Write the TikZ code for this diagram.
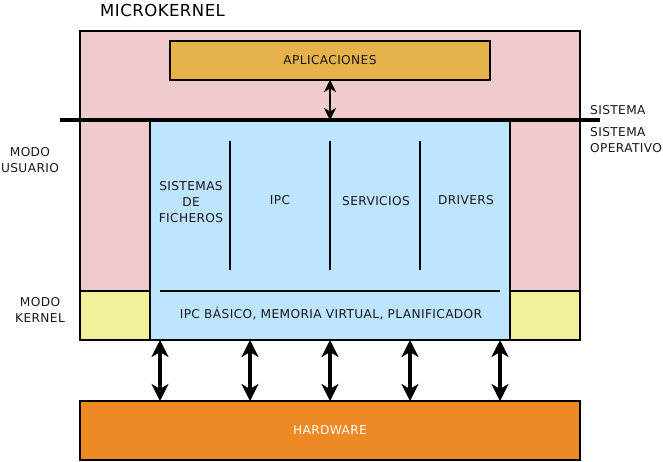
\documentclass[tikz,border=0pt]{standalone}
\usepackage{fontspec}
\setmainfont{DejaVu Sans}
\usetikzlibrary{arrows.meta}
\definecolor{oscol}{HTML}{EECACA}
\definecolor{appcol}{HTML}{E8B24A}
\definecolor{kercol}{HTML}{BEE5FF}
\definecolor{modcol}{HTML}{F0F09A}
\definecolor{hwcol}{HTML}{EE8A24}
\newfontfamily\lblfont[LetterSpace=3]{DejaVu Sans}
\begin{document}
\begin{tikzpicture}[x=1pt,y=-1pt,
  box/.style={draw=black, line width=1.6pt, rectangle, inner sep=0pt, outer sep=0pt},
  lbl/.style={font=\lblfont\fontsize{12.2}{16}\selectfont, align=center, inner sep=0pt, text=black!90},
  sep/.style={line width=1.6pt},
  dbl/.style={line width=3.4pt, {Stealth[length=17pt,width=17pt,inset=5pt]}-{Stealth[length=17pt,width=17pt,inset=5pt]}},
  sdbl/.style={line width=2pt, {Stealth[length=12pt,width=12pt,inset=3.5pt]}-{Stealth[length=12pt,width=12pt,inset=3.5pt]}}]
\useasboundingbox (0,0) rectangle (663,462);

% outer operating system area
\node[box, fill=oscol, minimum width=500pt, minimum height=309pt] (os) at (330,185.5) {};
% kernel-mode strips beside the microkernel
\node[box, fill=modcol, minimum width=70pt, minimum height=49pt] (kl) at (115,315.5) {};
\node[box, fill=modcol, minimum width=70pt, minimum height=49pt] (kr) at (545,315.5) {};
% microkernel and servers
\node[box, fill=kercol, minimum width=360pt, minimum height=220pt] (mk) at (330,230) {};
% applications
\node[box, fill=appcol, minimum width=320pt, minimum height=39pt] (app) at (330,60.5) {};
\node[lbl] (apptxt) at (330,60.5) {APLICACIONES};
% hardware
\node[box, fill=hwcol, minimum width=500pt, minimum height=59pt] (hw) at (330,430.5) {};
\node[lbl, text=white] (hwtxt) at (330,430.5) {HARDWARE};

% user/kernel boundary
\coordinate (bl) at (60,120);
\coordinate (br) at (600,120);
\draw[line width=3.8pt] (bl) -- (br);

% server partitions
\foreach \x/\n in {230/a,330/b,420/c}{
  \coordinate (t\n) at (\x,141);
  \coordinate (b\n) at (\x,270);
  \draw[sep] (t\n) -- (b\n);
}
\coordinate (hl) at (160,291);
\coordinate (hr) at (500,291);
\draw[sep] (hl) -- (hr);

% labels inside the microkernel
\node[lbl] (fs) at (191,202) {SISTEMAS\\DE\\FICHEROS};
\node[lbl] (ipc) at (280,200) {IPC};
\node[lbl] (srv) at (376,201) {SERVICIOS};
\node[lbl] (drv) at (466,200) {DRIVERS};
\node[lbl] (base) at (331,314) {IPC BÁSICO, MEMORIA VIRTUAL, PLANIFICADOR};

% outside labels
\node[anchor=west, inner sep=0pt, font=\lblfont\fontsize{16.5}{18}\selectfont] (title) at (100,10) {MICROKERNEL};
\node[lbl] (mu) at (30,160) {MODO\\USUARIO};
\node[lbl] (mkl) at (40,310) {MODO\\KERNEL};
\node[lbl, anchor=west] (sis) at (590,110) {SISTEMA};
\node[lbl, anchor=west, align=left] (so) at (590,140.5) {SISTEMA\\OPERATIVO};

% applications <-> kernel
\coordinate (ax) at (330,0);
\draw[sdbl] (app.south -| ax) -- (ax |- mk.north);

% kernel <-> hardware
\foreach \x/\n in {160/1,250/2,330/3,410/4,500/5}{
  \coordinate (v\n) at (\x,0);
  \draw[dbl] (v\n |- mk.south) -- (v\n |- hw.north);
}
\end{tikzpicture}
\end{document}
